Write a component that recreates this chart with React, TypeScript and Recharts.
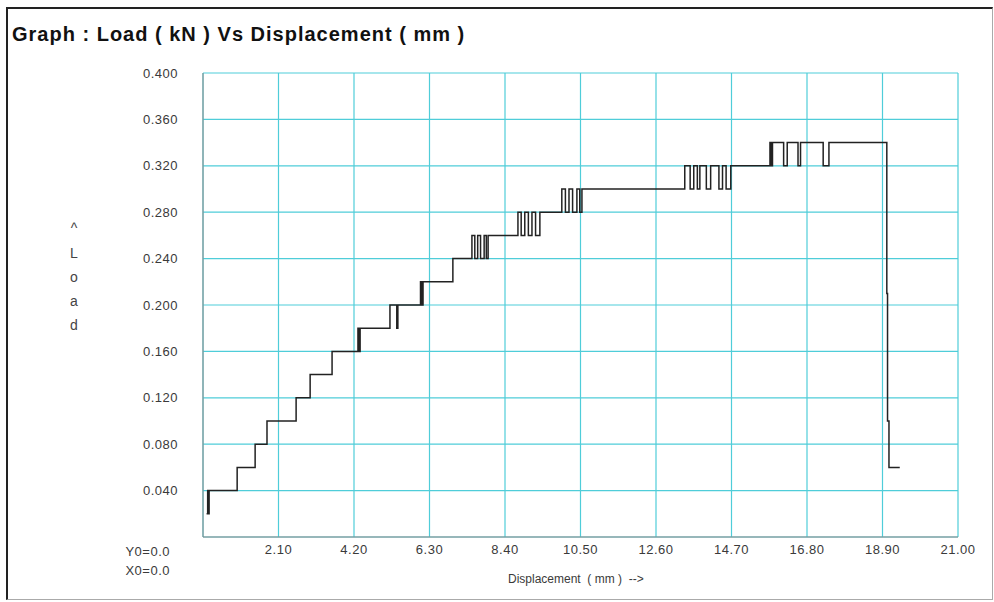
import React from "react"
import {
  LineChart,
  Line,
  XAxis,
  YAxis,
  CartesianGrid,
} from "recharts"

// displacement (mm) where each load level starts (step after)
const displacement = [
  0.1, 0.13, 0.15, 0.17, 0.95, 1.45, 1.78, 2.59, 2.98, 3.59,
  4.31, 4.34, 4.37, 5.2, 5.39, 5.42, 6.05, 6.08, 6.12, 6.95,
  7.48, 7.56, 7.64, 7.72, 7.82, 7.88, 7.93, 8.76, 8.85, 8.95,
  9.05, 9.15, 9.25, 9.37, 9.98, 10.08, 10.18, 10.28, 10.4, 10.48,
  10.54, 13.4, 13.55, 13.65, 13.75, 13.82, 14.0, 14.12, 14.35, 14.45,
  14.55, 14.68, 15.77, 15.8, 15.84, 16.15, 16.25, 16.55, 16.62, 17.25,
  17.41, 19.02, 19.04, 19.08, 19.38,
]

// load (kN)
const load = [
  0.02, 0.04, 0.02, 0.04, 0.06, 0.08, 0.1, 0.12, 0.14, 0.16,
  0.18, 0.16, 0.18, 0.2, 0.18, 0.2, 0.22, 0.2, 0.22, 0.24,
  0.26, 0.24, 0.26, 0.24, 0.26, 0.24, 0.26, 0.28, 0.26, 0.28,
  0.26, 0.28, 0.26, 0.28, 0.3, 0.28, 0.3, 0.28, 0.3, 0.28,
  0.3, 0.32, 0.3, 0.32, 0.3, 0.32, 0.3, 0.32, 0.3, 0.32,
  0.3, 0.32, 0.34, 0.32, 0.34, 0.32, 0.34, 0.32, 0.34, 0.32,
  0.34, 0.21, 0.1, 0.06, 0.06,
]

const xTicks = [0, 2.1, 4.2, 6.3, 8.4, 10.5, 12.6, 14.7, 16.8, 18.9, 21]
const yTicks = [0, 0.04, 0.08, 0.12, 0.16, 0.2, 0.24, 0.28, 0.32, 0.36, 0.4]

const data = displacement.map((x, i) => ({ x, y: load[i] }))

const tickFont = {
  fontSize: 13,
  fill: "#3a3a3a",
  fontFamily: "Liberation Sans, Arial, sans-serif",
  letterSpacing: 0.5,
}

export default function App() {
  return (
    <div
      style={{
        position: "absolute",
        left: 0,
        top: 0,
        width: 994,
        height: 602,
        background: "#fff",
        fontFamily: "Liberation Sans, Arial, sans-serif",
        overflow: "hidden",
      }}
    >
      <div
        style={{
          position: "absolute",
          left: 6,
          top: 7,
          width: 984,
          height: 590,
          borderLeft: "2px solid #222",
          borderTop: "2px solid #222",
          borderRight: "1px solid #aaa",
          borderBottom: "1px solid #aaa",
        }}
      />
      <div
        style={{
          position: "absolute",
          left: 12,
          top: 23,
          fontSize: 20,
          fontWeight: "bold",
          letterSpacing: 1,
          color: "#111",
          whiteSpace: "pre",
        }}
      >
        Graph : Load ( kN ) Vs Displacement ( mm )
      </div>

      <LineChart
        width={994}
        height={602}
        data={data}
        margin={{ top: 73, right: 36, left: 143, bottom: 35 }}
        style={{ position: "absolute", left: 0, top: 0 }}
      >
        <CartesianGrid stroke="#4fcdd9" strokeWidth={1.2} />
        <XAxis
          dataKey="x"
          type="number"
          domain={[0, 21]}
          ticks={xTicks}
          tickFormatter={(v: number) => (v === 0 ? "" : v.toFixed(2))}
          tick={tickFont}
          tickLine={false}
          tickSize={0}
          tickMargin={8}
          height={30}
          axisLine={{ stroke: "#888" }}
          allowDataOverflow
        />
        <XAxis
          xAxisId="top"
          orientation="top"
          type="number"
          domain={[0, 21]}
          tick={false}
          tickLine={false}
          height={0}
          axisLine={{ stroke: "#999" }}
        />
        <YAxis
          type="number"
          domain={[0, 0.4]}
          ticks={yTicks}
          tickFormatter={(v: number) => (v === 0 ? "" : v.toFixed(3))}
          tick={tickFont}
          tickLine={false}
          tickSize={0}
          tickMargin={25}
          width={60}
          axisLine={{ stroke: "#888" }}
          allowDataOverflow
        />
        <YAxis
          yAxisId="right"
          orientation="right"
          type="number"
          domain={[0, 0.4]}
          tick={false}
          tickLine={false}
          width={0}
          axisLine={{ stroke: "#999" }}
        />
        <Line
          dataKey="y"
          type="stepAfter"
          stroke="#222"
          strokeWidth={1.5}
          dot={false}
          isAnimationActive={false}
        />
      </LineChart>

      <div
        style={{
          position: "absolute",
          left: 64,
          top: 216,
          width: 20,
          textAlign: "center",
          fontSize: 14,
          lineHeight: "24px",
          color: "#444",
        }}
      >
        <div style={{ lineHeight: "25px" }}>^</div>
        <div>L</div>
        <div>o</div>
        <div>a</div>
        <div>d</div>
      </div>

      <div
        style={{
          position: "absolute",
          left: 90,
          top: 542,
          width: 80,
          textAlign: "right",
          fontSize: 13,
          lineHeight: "19px",
          color: "#3a3a3a",
          letterSpacing: 0.5,
        }}
      >
        <div>Y0=0.0</div>
        <div>X0=0.0</div>
      </div>

      <div
        style={{
          position: "absolute",
          left: 508,
          top: 572,
          fontSize: 12,
          color: "#3a3a3a",
          whiteSpace: "pre",
        }}
      >
        Displacement  ( mm )  --&gt;
      </div>
    </div>
  )
}
